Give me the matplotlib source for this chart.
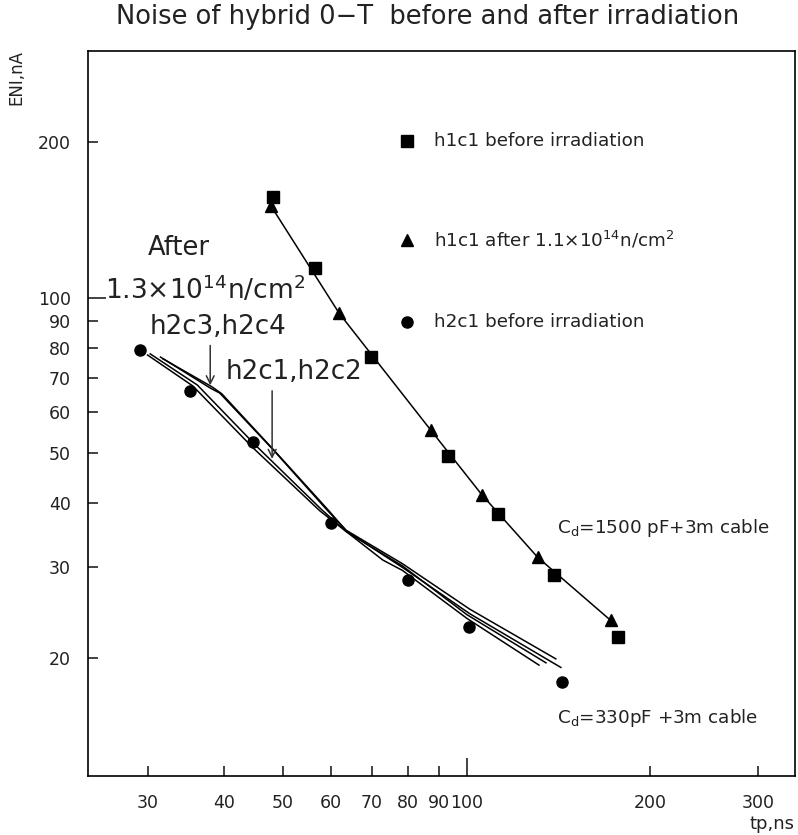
import matplotlib
matplotlib.use("Agg")
import matplotlib.pyplot as plt
from matplotlib.ticker import FixedLocator, FixedFormatter

plt.rcParams["font.family"] = ["DejaVu Sans"]

# h1c1 before irradiation (squares)
h1_before_tp = [48.1, 56.4, 69.6, 93.3, 112.7, 139.0, 177.0]
h1_before_eni = [157.0, 114.3, 76.6, 49.4, 38.1, 29.0, 22.0]

# h1c1 after 1.1e14 n/cm2 (triangles)
h1_after_tp = [47.8, 61.8, 87.3, 105.9, 130.7, 172.1]
h1_after_eni = [150.5, 93.3, 55.4, 41.5, 31.4, 23.7]

# h2c1 before irradiation (circles)
h2_before_tp = [29.1, 35.2, 44.6, 59.9, 80.0, 101.0, 143.1]
h2_before_eni = [79.2, 65.9, 52.5, 36.5, 28.4, 23.0, 18.0]

# h2c1..h2c4 after 1.3e14 n/cm2 (plain lines)
h2c1_tp = [30.0, 35.6, 44.7, 57.5, 63.5, 72.9, 78.5, 100.1, 131.4]
h2c1_eni = [77.4, 67.4, 51.1, 38.6, 35.2, 31.0, 29.6, 23.9, 19.4]
h2c2_tp = [30.3, 36.2, 45.2, 57.9, 63.5, 78.5, 100.1, 134.9]
h2c2_eni = [77.8, 67.7, 51.6, 38.8, 35.2, 30.2, 24.3, 19.6]
h2c3_tp = [31.5, 38.0, 39.4, 48.2, 59.0, 63.5, 78.5, 101.2, 140.0]
h2c3_eni = [76.7, 66.8, 65.3, 50.7, 38.8, 35.4, 30.5, 24.9, 19.95]
h2c4_tp = [31.8, 38.3, 39.7, 48.5, 59.5, 63.5, 78.5, 101.2, 142.7]
h2c4_eni = [76.1, 67.1, 65.1, 50.4, 38.6, 35.3, 30.0, 24.4, 19.2]

x_minor = [30, 40, 50, 60, 70, 80, 90, 200, 300]
y_minor = [20, 30, 40, 50, 60, 70, 80, 90, 200]

fig = plt.figure(figsize=(7.98, 8.35), dpi=100)
ax = fig.add_axes([0.110, 0.0707, 0.886, 0.8686])
ax.set_xscale("log")
ax.set_yscale("log")
ax.set_xlim(23.94, 345)
ax.set_ylim(11.83, 301)

lw = 1.1
ax.plot(h1_after_tp, h1_after_eni, color="black", lw=lw)
for xs, ys in [(h2c1_tp, h2c1_eni), (h2c2_tp, h2c2_eni),
               (h2c3_tp, h2c3_eni), (h2c4_tp, h2c4_eni)]:
    ax.plot(xs, ys, color="black", lw=lw)

ax.plot(h1_before_tp, h1_before_eni, ls="none", marker="s", ms=8, color="black")
ax.plot(h1_after_tp, h1_after_eni, ls="none", marker="^", ms=8.5, color="black")
ax.plot(h2_before_tp, h2_before_eni, ls="none", marker="o", ms=8, color="black")

# ticks: 100 gets the long one
ax.xaxis.set_major_locator(FixedLocator([100]))
ax.xaxis.set_major_formatter(FixedFormatter(["100"]))
ax.xaxis.set_minor_locator(FixedLocator(x_minor))
ax.xaxis.set_minor_formatter(FixedFormatter([str(v) for v in x_minor]))
ax.yaxis.set_major_locator(FixedLocator([100]))
ax.yaxis.set_major_formatter(FixedFormatter(["100"]))
ax.yaxis.set_minor_locator(FixedLocator(y_minor))
ax.yaxis.set_minor_formatter(FixedFormatter([str(v) for v in y_minor]))
ax.tick_params(which="both", direction="in", labelsize=12.5, width=1.2,
               top=False, right=False, color="#222222", labelcolor="#222222")
ax.tick_params(which="major", length=13)
ax.tick_params(which="minor", length=7)
ax.tick_params(axis="x", which="both", pad=13)
ax.tick_params(axis="y", which="both", pad=12)
for s in ax.spines.values():
    s.set_linewidth(1.2)

fig.text(0.536, 0.980, "Noise of hybrid 0\u2212T  before and after irradiation",
         ha="center", va="center", fontsize=18.5, color="#222222")
fig.text(0.021, 0.907, "ENI,nA", rotation=90, ha="center", va="center",
         fontsize=12, color="#222222")
fig.text(0.996, 0.0075, "tp,ns", ha="right", va="baseline", fontsize=13,
         color="#222222")

# legend drawn by hand in the plot area
leg_x = 0.4514
for yfrac, m, label in [
    (0.8755, "s", "h1c1 before irradiation"),
    (0.7390, "^", r"h1c1 after 1.1$\times$10$^{14}$n/cm$^{2}$"),
    (0.6260, "o", "h2c1 before irradiation"),
]:
    ax.plot([leg_x], [yfrac], transform=ax.transAxes, marker=m, ms=8,
            color="black", ls="none", clip_on=False)
    ax.text(leg_x + 0.0383, yfrac, label, transform=ax.transAxes,
            ha="left", va="center", fontsize=13.2, color="#222222")

big = dict(transform=ax.transAxes, ha="center", va="center", color="#222222")
ax.text(0.1291, 0.728, "After", fontsize=18.5, **big)
ax.text(0.1659, 0.6701, r"1.3$\times$10$^{14}$n/cm$^{2}$", fontsize=19, **big)
ax.text(0.1835, 0.6195, "h2c3,h2c4", fontsize=18.8, **big)
ax.text(0.2917, 0.5571, "h2c1,h2c2", fontsize=18.8, **big)

# arrows
ax.annotate("", xy=(38.0, 66.8), xytext=(38.0, 81.8),
            arrowprops=dict(arrowstyle="->", color="#333333", lw=1.1,
                            mutation_scale=14))
ax.annotate("", xy=(48.0, 48.1), xytext=(48.0, 66.8),
            arrowprops=dict(arrowstyle="->", color="#333333", lw=1.1,
                            mutation_scale=14))

ax.text(0.6635, 0.3419, r"C$_{\rm d}$=1500 pF+3m cable", transform=ax.transAxes,
        ha="left", va="center", fontsize=13.2, color="#222222")
ax.text(0.6635, 0.0800, r"C$_{\rm d}$=330pF +3m cable", transform=ax.transAxes,
        ha="left", va="center", fontsize=13.2, color="#222222")

fig.savefig("out.png", dpi=100)
